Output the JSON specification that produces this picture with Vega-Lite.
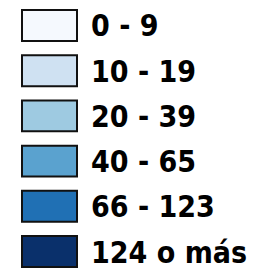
{
  "$schema": "https://vega.github.io/schema/vega-lite/v6.json",
  "width": 264,
  "height": 268,
  "padding": 0,
  "autosize": {"type": "none"},
  "background": "white",
  "config": {"view": {"stroke": null}},
  "data": {"values": [
    {"label": "0 - 9", "order": 1},
    {"label": "10 - 19", "order": 2},
    {"label": "20 - 39", "order": 3},
    {"label": "40 - 65", "order": 4},
    {"label": "66 - 123", "order": 5},
    {"label": "124 o más", "order": 6}
  ]},
  "encoding": {
    "y": {"field": "label", "type": "nominal", "sort": {"field": "order"}, "axis": null,
          "scale": {"range": [10, 267], "paddingInner": 0.316, "paddingOuter": 0}}
  },
  "layer": [
    {
      "mark": {"type": "rect", "x": 22, "x2": 77, "stroke": "#111111", "strokeWidth": 2},
      "encoding": {
        "color": {"field": "label", "type": "nominal", "sort": {"field": "order"}, "legend": null,
                  "scale": {"range": ["#f5f9fe", "#cfe1f2", "#9ecae1", "#5aa2cf", "#2070b4", "#0a306b"]}}
      }
    },
    {
      "mark": {"type": "text", "x": 91, "align": "left", "baseline": "alphabetic", "dy": 11,
               "font": "DejaVu Sans Condensed", "fontWeight": "bold", "fontSize": 30, "fill": "#000000"},
      "encoding": {"text": {"field": "label"}}
    }
  ]
}
